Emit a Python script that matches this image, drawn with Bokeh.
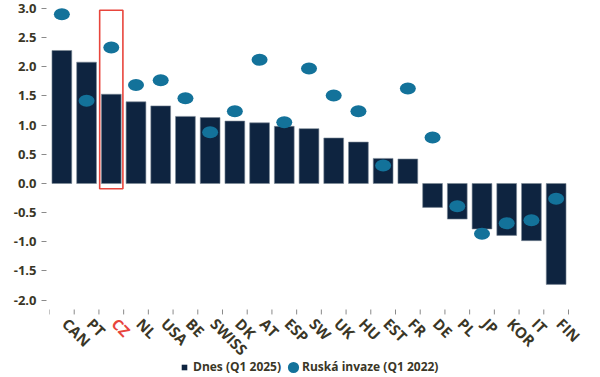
import math
from bokeh.plotting import figure
from bokeh.models import (Range1d, FixedTicker, NumeralTickFormatter, Legend, LegendItem,
                          ColumnDataSource)
from bokeh.embed import file_html
from bokeh.resources import INLINE

countries = ["CAN", "PT", "CZ", "NL", "USA", "BE", "SWISS", "DK", "AT", "ESP", "SW",
             "UK", "HU", "EST", "FR", "DE", "PL", "JP", "KOR", "IT", "FIN"]
dnes_q1_2025 = [2.28, 2.08, 1.53, 1.40, 1.33, 1.15, 1.13, 1.07, 1.04, 0.98, 0.94,
                0.78, 0.71, 0.43, 0.42, -0.41, -0.61, -0.78, -0.89, -0.98, -1.73]
invaze_q1_2022 = [2.90, 1.42, 2.33, 1.69, 1.77, 1.46, 0.88, 1.24, 2.12, 1.05, 1.97,
                  1.51, 1.24, 0.31, 1.63, 0.79, -0.39, -0.86, -0.68, -0.63, -0.26]
y_ticks = [-2.0, -1.5, -1.0, -0.5, 0.0, 0.5, 1.0, 1.5, 2.0, 2.5, 3.0]
legend_labels = ["Dnes (Q1 2025)", "Ruská invaze (Q1 2022)"]
highlight = "CZ"

BAR = "#0e2440"
DOT = "#13729a"
TXT = "#3a3626"
RED = "#e8453c"
TICK = "#8a8a8a"
FONT = "Open Sans"

n = len(countries)
xs = list(range(n))
src = ColumnDataSource(dict(x=xs, bar=dnes_q1_2025, dot=invaze_q1_2022))

# layout constants (frame spans the whole canvas right of the value axis)
Y_TOP, Y_BOTTOM = 3.137, -3.326
X_START, X_END = -0.5, n - 0.5 + 1.295
TICK_Y0, TICK_Y1 = -2.16, -2.245
LABEL_Y, LABEL_DX = -2.355, 0.14
OFF_CANVAS = Y_BOTTOM - 100

lab_src = ColumnDataSource(dict(
    x=[i + LABEL_DX for i in xs], y=[LABEL_Y] * n, text=countries,
    color=[RED if c == highlight else TXT for c in countries]))
edges = [i - 0.5 for i in range(n + 1)]

p = figure(width=600, height=377, min_border_left=49, min_border_right=0,
           min_border_top=0, min_border_bottom=0, x_axis_location=None,
           x_range=Range1d(X_START, X_END), y_range=Range1d(Y_BOTTOM, Y_TOP),
           output_backend="svg", toolbar_location=None)
p.outline_line_color = None
p.grid.grid_line_color = None
p.background_fill_color = "white"
p.border_fill_color = "white"

p.vbar(x="x", top="bar", bottom=0, width=0.8, source=src,
       fill_color=BAR, line_color="#7a8896", line_width=0.6)
p.ellipse(x="x", y="dot", width=16, height=12, width_units="screen",
          height_units="screen", source=src, fill_color=DOT, line_color=None)

hi = countries.index(highlight)
p.quad(left=[hi - 0.47], right=[hi + 0.47], bottom=[-0.09], top=[2.97],
       fill_color=None, line_color=RED, line_width=1.6)

p.segment(x0=edges, x1=edges, y0=[TICK_Y0] * len(edges), y1=[TICK_Y1] * len(edges),
          line_color=TICK, line_width=1)
p.text(x="x", y="y", text="text", source=lab_src, angle=-math.pi / 4,
       text_color="color", text_font={"value": FONT}, text_font_style="bold",
       text_font_size="15px", text_align="left", text_baseline="middle")

# y axis
ya = p.yaxis[0]
ya.ticker = FixedTicker(ticks=y_ticks)
ya.formatter = NumeralTickFormatter(format="0.0")
ya.axis_line_color = None
ya.major_tick_in = -3
ya.major_tick_out = 8
ya.major_tick_line_color = TICK
ya.minor_tick_line_color = None
ya.major_label_standoff = 5
ya.major_label_text_font = FONT
ya.major_label_text_font_style = "bold"
ya.major_label_text_font_size = "13px"
ya.major_label_text_color = TXT

# legend proxies (kept off the canvas, only their legend swatches show)
sq = p.scatter(x=[0], y=[OFF_CANVAS], marker="square", size=7,
               fill_color=BAR, line_color=None)
ci = p.ellipse(x=[0], y=[OFF_CANVAS], width=11, height=11, width_units="screen",
               height_units="screen", fill_color=DOT, line_color=None)

legend = Legend(items=[LegendItem(label=legend_labels[0], renderers=[sq]),
                       LegendItem(label=legend_labels[1], renderers=[ci])],
                orientation="horizontal", location=(128, 2),
                label_text_font=FONT, label_text_font_style="bold",
                label_text_font_size="12px", label_text_color=TXT,
                glyph_width=14, glyph_height=14, spacing=5, label_standoff=2,
                border_line_color=None, background_fill_alpha=0,
                padding=0, margin=0)
p.add_layout(legend)

open("out.html", "w").write(file_html(p, INLINE))
